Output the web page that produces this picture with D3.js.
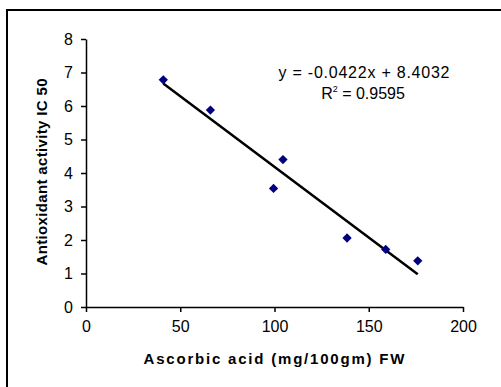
<!DOCTYPE html>
<html>
<head>
<meta charset="utf-8">
<script src="https://cdn.jsdelivr.net/npm/d3@7"></script>
<style>
  body { margin: 0; background: #fff; overflow: hidden; }
  svg { display: block; font-family: "Liberation Sans", Arial, sans-serif; }
</style>
</head>
<body>
<svg id="chart" width="501" height="387"></svg>
<script>
// values
var ascorbic = [41, 66, 99.5, 104.5, 138.5, 159, 176];
var ic50 = [6.78, 5.88, 3.54, 4.40, 2.06, 1.72, 1.38];
var xTicks = [0, 50, 100, 150, 200];
var yTicks = [0, 1, 2, 3, 4, 5, 6, 7, 8];
var slope = -0.0422, intercept = 8.4032;
var eqText = "y = -0.0422x + 8.4032";
var r2Value = "0.9595";

var svg = d3.select("#chart");

// outer frame (right and bottom sides fall off the picture)
svg.append("rect")
  .attr("x", 7).attr("y", 10)
  .attr("width", 540).attr("height", 440)
  .attr("fill", "none")
  .attr("stroke", "#000")
  .attr("stroke-width", 2);

var x = d3.scaleLinear().domain([0, 200]).range([86, 463]);
var y = d3.scaleLinear().domain([0, 8]).range([307, 39]);

var xAxis = svg.append("g")
  .attr("transform", "translate(0," + y(0) + ")")
  .call(d3.axisBottom(x).tickValues(xTicks).tickSize(5).tickPadding(9).tickSizeOuter(0));
var yAxis = svg.append("g")
  .attr("transform", "translate(" + x(0) + ",0)")
  .call(d3.axisLeft(y).tickValues(yTicks).tickSize(5).tickPadding(8).tickSizeOuter(0));

[xAxis, yAxis].forEach(function(g){
  g.select(".domain").attr("stroke", "#000").attr("stroke-width", 1.5);
  g.selectAll(".tick line").attr("stroke", "#000").attr("stroke-width", 1.5);
  g.selectAll(".tick text")
    .attr("fill", "#000")
    .style("font-size", "16px")
    .style("font-family", "Liberation Sans, Arial, sans-serif");
});

// trend line
var xMin = d3.min(ascorbic), xMax = d3.max(ascorbic);
svg.append("line")
  .attr("x1", x(xMin)).attr("y1", y(slope * xMin + intercept))
  .attr("x2", x(xMax)).attr("y2", y(slope * xMax + intercept))
  .attr("stroke", "#000")
  .attr("stroke-width", 2.5);

// points
var diamond = d3.symbol().type(d3.symbolDiamond2).size(55);
svg.append("g").selectAll("path")
  .data(d3.zip(ascorbic, ic50))
  .join("path")
  .attr("d", diamond)
  .attr("transform", function(d){ return "translate(" + x(d[0]) + "," + y(d[1]) + ")"; })
  .attr("fill", "#000080");

// equation
svg.append("text")
  .attr("x", 364).attr("y", 78)
  .attr("text-anchor", "middle")
  .attr("textLength", 171)
  .style("font-size", "16px")
  .text(eqText);
var r2 = svg.append("text")
  .attr("x", 363).attr("y", 99)
  .attr("text-anchor", "middle")
  .style("font-size", "16px");
r2.append("tspan").text("R");
r2.append("tspan").attr("dy", -7).style("font-size", "9px").text("2");
r2.append("tspan").attr("dy", 7).text(" = " + r2Value);

// axis titles
svg.append("text")
  .attr("x", 274).attr("y", 364)
  .attr("text-anchor", "middle")
  .attr("textLength", 261)
  .style("font-size", "15px")
  .style("font-weight", "bold")
  .text("Ascorbic acid (mg/100gm) FW");

svg.append("text")
  .attr("transform", "translate(47,172) rotate(-90)")
  .attr("text-anchor", "middle")
  .attr("textLength", 187)
  .style("font-size", "15px")
  .style("font-weight", "bold")
  .text("Antioxidant activity IC 50");
</script>
</body>
</html>
